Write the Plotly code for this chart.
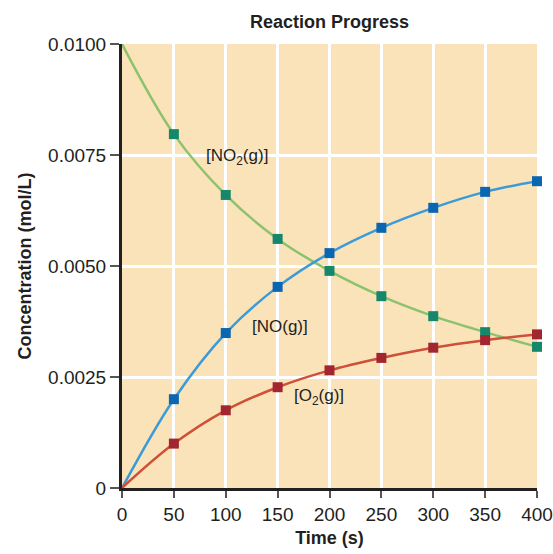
import plotly.graph_objects as go

time_s = [0, 50, 100, 150, 200, 250, 300, 350, 400]
no2 = [0.0100, 0.00797, 0.00660, 0.00561, 0.00489, 0.00432, 0.00387, 0.00351, 0.00318]
no = [0.0, 0.00200, 0.00349, 0.00453, 0.00529, 0.00586, 0.00631, 0.00667, 0.00691]
o2 = [0.0, 0.00100, 0.00175, 0.00227, 0.00265, 0.00293, 0.00316, 0.00333, 0.00346]

y_tickvals = [0, 0.0025, 0.0050, 0.0075, 0.0100]
y_ticktext = ["0", "0.0025", "0.0050", "0.0075", "0.0100"]
x_tickvals = [0, 50, 100, 150, 200, 250, 300, 350, 400]

FONT = "Liberation Sans Narrow, Arial Narrow, Liberation Sans, sans-serif"
TXT = "#231f20"

series = [
    (no2, "#8cc26e", "#16876a"),
    (no, "#3b9bd8", "#0b66b2"),
    (o2, "#cf4f38", "#a1262f"),
]

fig = go.Figure()
for vals, lc, mc in series:
    fig.add_trace(go.Scatter(x=time_s, y=vals, mode="lines", line=dict(color=lc, width=2.5, shape="spline"),
                             hoverinfo="skip", showlegend=False, cliponaxis=False))
for vals, lc, mc in series:
    fig.add_trace(go.Scatter(x=time_s[1:], y=vals[1:], mode="markers",
                             marker=dict(symbol="square", size=10, color=mc),
                             showlegend=False, cliponaxis=False))

fig.add_annotation(x=111, y=0.00745, text="[NO<sub>2</sub>(g)]", showarrow=False,
                   font=dict(family=FONT, size=17, color=TXT))
fig.add_annotation(x=152, y=0.00363, text="[NO(g)]", showarrow=False,
                   font=dict(family=FONT, size=17, color=TXT))
fig.add_annotation(x=190, y=0.00205, text="[O<sub>2</sub>(g)]", showarrow=False,
                   font=dict(family=FONT, size=17, color=TXT))

fig.update_layout(
    width=553, height=554, autosize=False,
    margin=dict(l=122, r=16, t=44, b=66),
    paper_bgcolor="white",
    plot_bgcolor="#fbe3b9",
    title=dict(text="<b>Reaction Progress</b>", x=(122 + 537) / 2 / 553, xanchor="center",
               y=1 - 22 / 554, yanchor="middle", font=dict(family=FONT, size=18, color=TXT)),
    font=dict(family=FONT, size=19, color=TXT),
    xaxis=dict(range=[0, 400], tickvals=x_tickvals, showgrid=True, gridcolor="white", gridwidth=3,
               showline=True, linecolor=TXT, linewidth=2.5, ticks="outside", ticklen=7,
               tickcolor="#555555", tickwidth=1.5, zeroline=False, tickfont=dict(size=19),
               automargin=False,
               title=dict(text="<b>Time (s)</b>", font=dict(family=FONT, size=18), standoff=8)),
    yaxis=dict(range=[0, 0.0100], tickvals=y_tickvals, ticktext=y_ticktext, showgrid=True,
               gridcolor="white", gridwidth=3, showline=True, linecolor=TXT, linewidth=3,
               ticks="outside", ticklen=9, tickcolor="#555555", tickwidth=1.5, zeroline=False,
               tickfont=dict(size=19), automargin=False,
               title=dict(text="<b>Concentration (mol/L)</b>", font=dict(family=FONT, size=18), standoff=12)),
)

fig.write_html(
    "out.html",
    config={"displayModeBar": False, "responsive": False},
    default_width="553px", default_height="554px",
    post_script="document.documentElement.style.margin='0';document.body.style.margin='0';"
                "document.body.style.padding='0';document.body.style.overflow='hidden';"
                "document.documentElement.style.overflow='hidden';",
)
